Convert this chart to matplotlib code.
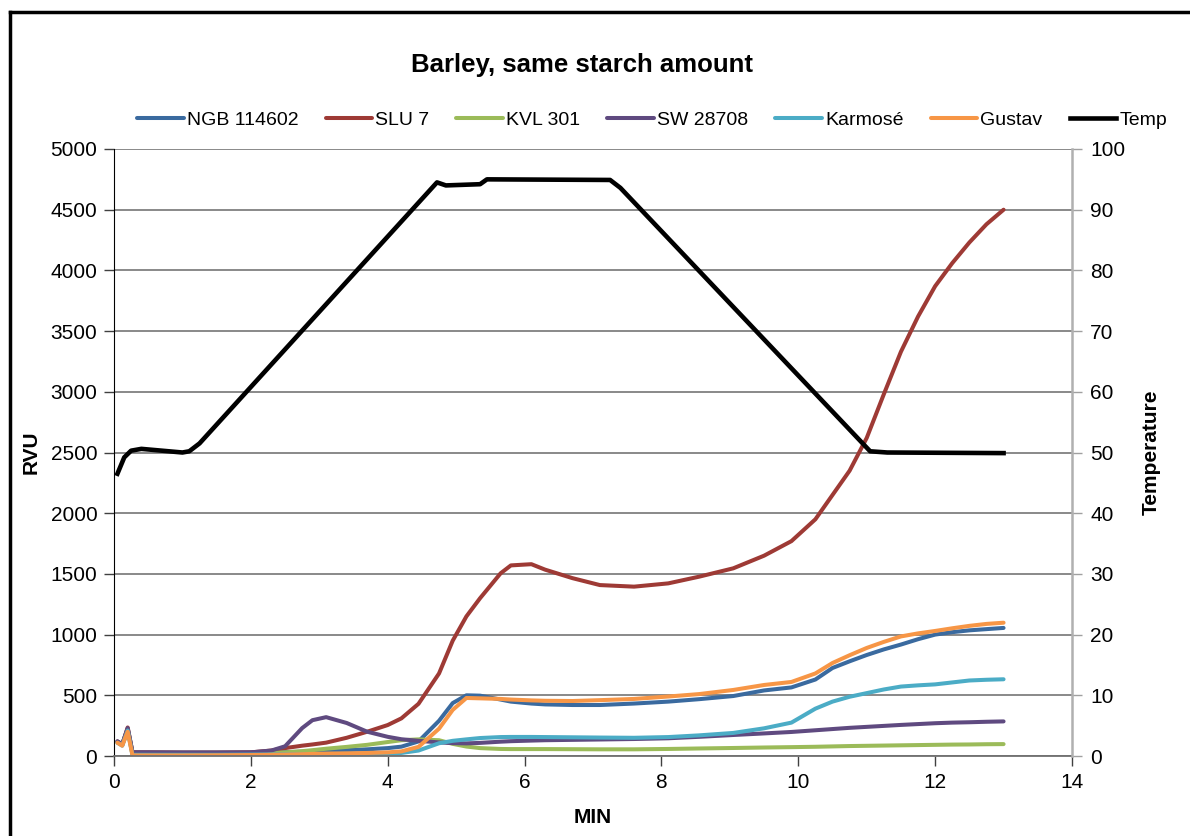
import matplotlib
matplotlib.use('Agg')
import matplotlib.pyplot as plt
from matplotlib.lines import Line2D

plt.rcParams['font.family'] = ['Liberation Sans', 'DejaVu Sans']

# time grid (min) shared by the RVU series
t = [0.05, 0.12, 0.2, 0.27, 0.5, 1.0, 1.5, 2.0, 2.3, 2.5, 2.75, 2.9, 3.1, 3.4, 3.7,
     4.0, 4.2, 4.45, 4.75, 4.95, 5.15, 5.35, 5.65, 5.8, 6.1, 6.3, 6.7, 7.1, 7.6,
     8.1, 8.55, 9.05, 9.5, 9.9, 10.25, 10.5, 10.75, 11.0, 11.25, 11.5, 11.75,
     12.0, 12.25, 12.5, 12.75, 13.0]

ngb = [120, 95, 225, 30, 28, 28, 28, 28, 30, 32, 35, 38, 42, 48, 55,
       65, 77, 120, 290, 436, 500, 497, 465, 448, 432, 425, 420, 420, 432,
       448, 468, 494, 540, 565, 630, 725, 780, 832, 878, 918, 962,
       1000, 1020, 1035, 1045, 1055]
slu = [120, 95, 235, 30, 30, 28, 28, 30, 45, 65, 85, 95, 110, 150, 200,
       255, 310, 430, 680, 950, 1150, 1300, 1505, 1570, 1580, 1535, 1465, 1408, 1395,
       1422, 1477, 1546, 1650, 1770, 1950, 2150, 2350, 2620, 2980, 3330, 3620,
       3870, 4060, 4230, 4380, 4500]
kvl = [110, 90, 215, 15, 15, 15, 16, 18, 25, 30, 40, 48, 60, 75, 92,
       115, 130, 137, 130, 100, 78, 65, 58, 57, 57, 57, 56, 55, 55,
       58, 62, 66, 70, 73, 76, 79, 82, 84, 86, 88, 90,
       92, 94, 95, 97, 98]
sw = [120, 95, 230, 30, 30, 28, 28, 30, 45, 80, 230, 295, 320, 272, 200,
      158, 138, 125, 112, 106, 104, 108, 118, 122, 127, 130, 133, 136, 140,
      146, 158, 173, 186, 198, 212, 222, 232, 240, 248, 256, 263,
      270, 275, 278, 282, 285]
karmose = [110, 85, 210, 10, 10, 10, 10, 12, 13, 14, 15, 16, 17, 18, 19,
           20, 25, 45, 105, 125, 137, 148, 156, 157, 157, 156, 154, 152, 150,
           156, 170, 190, 228, 275, 390, 448, 488, 518, 548, 572, 582,
           590, 606, 622, 628, 632]
gustav = [110, 85, 200, 5, 5, 5, 6, 8, 10, 12, 15, 17, 20, 22, 25,
          30, 38, 75, 225, 380, 478, 475, 470, 465, 458, 455, 453, 460, 470,
          490, 510, 544, 585, 610, 680, 766, 830, 890, 940, 985, 1010,
          1030, 1052, 1072, 1088, 1098]

# temperature profile
t_temp = [0.05, 0.15, 0.25, 0.4, 0.7, 1.0, 1.1, 1.25, 4.72, 4.85, 5.35, 5.45,
          7.25, 7.4, 11.05, 11.3, 13.0]
temp = [46.5, 49.2, 50.3, 50.6, 50.3, 50.0, 50.2, 51.5, 94.5, 94.0, 94.2, 95.0,
        94.9, 93.6, 50.2, 50.0, 49.9]

series = [('NGB 114602', ngb, '#3A6A9F'),
          ('SLU 7', slu, '#9E3A35'),
          ('KVL 301', kvl, '#9BBB59'),
          ('SW 28708', sw, '#5F4A80'),
          ('Karmosé', karmose, '#4BACC6'),
          ('Gustav', gustav, '#F79646')]

fig = plt.figure(figsize=(11.9, 8.36), dpi=100)
ax = fig.add_axes([114/1190, 1-756/836, (1072-114)/1190, (756-149)/836])

handles = []
for name, vals, col in series:
    h, = ax.plot(t, vals, color=col, lw=2.9, label=name,
                 solid_capstyle='round', solid_joinstyle='round')
    handles.append(h)

ax.set_xlim(0, 14)
ax.set_ylim(0, 5000)
ax.set_xticks(range(0, 15, 2))
ax.set_yticks(range(0, 5001, 500))
ax.yaxis.grid(True, color='#808080', lw=1.3)
ax.set_axisbelow(True)
ax.tick_params(axis='both', labelsize=15, direction='out', length=7, width=1,
               colors='#404040', labelcolor='black', pad=5)
ax.spines['top'].set_visible(False)
ax.spines['right'].set_visible(False)
ax.spines['left'].set_color('black')
ax.spines['bottom'].set_color('#707070')
ax.spines['bottom'].set_linewidth(1.3)
ax.set_xlabel('MIN', fontsize=15, fontweight='bold', labelpad=12)
ax.set_ylabel('RVU', fontsize=15, fontweight='bold', labelpad=7)

ax2 = ax.twinx()
h, = ax2.plot(t_temp, temp, color='black', lw=3.3, label='Temp',
              solid_joinstyle='round')
handles.append(h)
ax2.set_ylim(0, 100)
ax2.set_yticks(range(0, 101, 10))
ax2.tick_params(axis='y', labelsize=15, direction='out', length=7, width=1,
                colors='#A0A0A0', labelcolor='black', pad=6)
for s in ['top', 'left', 'bottom']:
    ax2.spines[s].set_visible(False)
ax2.spines['right'].set_color('#B0B0B0')
ax2.spines['right'].set_linewidth(1.8)
ax2.set_ylabel('Temperature', fontsize=15, fontweight='bold', labelpad=12)

fig.text(582/1190, 1-65/836, 'Barley, same starch amount', ha='center', va='center',
         fontsize=18.5, fontweight='bold')

fig.legend(handles=handles, loc='center', bbox_to_anchor=(652/1190, 1-120/836),
           ncol=7, frameon=False, fontsize=14, handlelength=2.4, handletextpad=0.15,
           columnspacing=1.4)

# chart frame
fig.add_artist(Line2D([10/1190, 10/1190], [0, 1-12/836], color='black', lw=2.5,
                      transform=fig.transFigure))
fig.add_artist(Line2D([10/1190, 1], [1-12/836, 1-12/836], color='black', lw=2.5,
                      transform=fig.transFigure))

fig.savefig('out.png', dpi=100)
